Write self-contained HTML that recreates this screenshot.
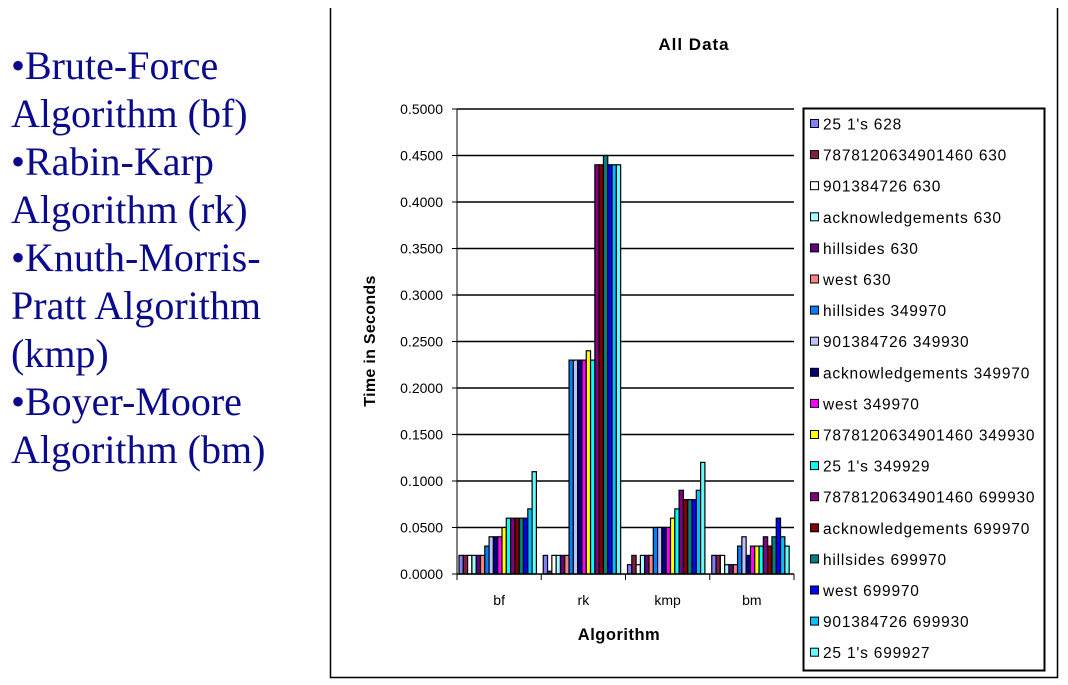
<!DOCTYPE html>
<html><head><meta charset="utf-8"><style>
body{margin:0;width:1068px;height:685px;background:#fff;overflow:hidden;position:relative}
.left{position:absolute;left:11px;top:42px;font-family:"Liberation Serif",serif;font-size:40px;line-height:48px;color:#0a0a8c}
</style></head><body>
<div class="left">
<div>•Brute-Force<br>Algorithm (bf)</div>
<div>•Rabin-Karp<br>Algorithm (rk)</div>
<div>•Knuth-Morris-<br>Pratt Algorithm<br>(kmp)</div>
<div>•Boyer-Moore<br>Algorithm (bm)</div>
</div>
<svg id="chart" width="1068" height="685" style="position:absolute;left:0;top:0" font-family="Liberation Sans, sans-serif"></svg>
<script>
const categories=["bf","rk","kmp","bm"];
const seriesNames=["25 1's 628","7878120634901460 630","901384726 630","acknowledgements 630","hillsides 630","west 630","hillsides 349970","901384726 349930","acknowledgements 349970","west 349970","7878120634901460 349930","25 1's 349929","7878120634901460 699930","acknowledgements 699970","hillsides 699970","west 699970","901384726 699930","25 1's 699927"];
const seriesColors=["#8080ff","#802040","#ffffff","#a0ffff","#600080","#ff8080","#0080ff","#c0c0ff","#000080","#ff00ff","#ffff00","#00ffff","#800080","#800000","#008080","#0000ff","#00c0ff","#60ffff"];
const bfValues=[0.02,0.02,0.02,0.02,0.02,0.02,0.03,0.04,0.04,0.04,0.05,0.06,0.06,0.06,0.06,0.06,0.07,0.11];
const rkValues=[0.02,0.003,0.02,0.02,0.02,0.02,0.23,0.23,0.23,0.23,0.24,0.23,0.44,0.44,0.45,0.44,0.44,0.44];
const kmpValues=[0.01,0.02,0.01,0.02,0.02,0.02,0.05,0.05,0.05,0.05,0.06,0.07,0.09,0.08,0.08,0.08,0.09,0.12];
const bmValues=[0.02,0.02,0.02,0.01,0.01,0.01,0.03,0.04,0.02,0.03,0.03,0.03,0.04,0.03,0.04,0.06,0.04,0.03];
const yTicks=[0,0.05,0.1,0.15,0.2,0.25,0.3,0.35,0.4,0.45,0.5];
const groupValues=[bfValues,rkValues,kmpValues,bmValues];
const svg=document.getElementById('chart');const NS='http://www.w3.org/2000/svg';
function mk(t,a,txt){const e=document.createElementNS(NS,t);for(const k in a)e.setAttribute(k,a[k]);if(txt!=null)e.textContent=txt;svg.appendChild(e);return e;}
const X0=457,X1=794,Y0=574,Y1=109;
const y=v=>Y0-(v/0.5)*(Y0-Y1);
const gw=(X1-X0)/categories.length;
let e;
e=mk('path',{d:'M330.5 8V677.5H1057.5V8',fill:'none',stroke:'#000','stroke-width':1.5});

e=mk('text',{x:694,y:50,'font-size':17,'font-weight':'bold','letter-spacing':1,'text-anchor':'middle'},'All Data');

yTicks.forEach(t=>{
 e=mk('line',{x1:X0,x2:X1,y1:y(t),y2:y(t),stroke:'#000','stroke-width':t===0?1:1.5});
 
 e=mk('line',{x1:X0-5,x2:X0,y1:y(t),y2:y(t),stroke:'#000'});
 
 e=mk('text',{x:443,y:y(t)+5,'font-size':14,'text-anchor':'end'},t.toFixed(4));
 
});
e=mk('line',{x1:X0,x2:X0,y1:Y1,y2:Y0,stroke:'#000'});

const bw=4.3;
groupValues.forEach((vals,g)=>{
 const gx=X0+g*gw+2;
 vals.forEach((v,i)=>{
  e=mk('rect',{x:gx+i*bw,y:y(v),width:bw,height:Y0-y(v),fill:seriesColors[i],stroke:'#000','stroke-width':1.2});
  
 });
 e=mk('text',{x:X0+(g+0.5)*gw,y:605,'font-size':14,'text-anchor':'middle'},categories[g]);
 
});
for(let g=0;g<=categories.length;g++){
 e=mk('line',{x1:X0+g*gw,x2:X0+g*gw,y1:Y0,y2:Y0+6,stroke:'#000'});
 
}
e=mk('line',{x1:X0,x2:X1,y1:Y0,y2:Y0,stroke:'#000','stroke-width':1.5});

e=mk('text',{x:619,y:640,'font-size':16.5,'font-weight':'bold','letter-spacing':0.5,'text-anchor':'middle'},'Algorithm');

e=mk('text',{x:0,y:0,'font-size':16,'font-weight':'bold','letter-spacing':0.3,'text-anchor':'middle',transform:'translate(375,341) rotate(-90)'},'Time in Seconds');

e=mk('rect',{x:803.5,y:108.5,width:241,height:562,fill:'#fff',stroke:'#000','stroke-width':2});

seriesNames.forEach((n,i)=>{
 const ly=124+i*31.1;
 e=mk('rect',{x:810.5,y:ly-4.5,width:8,height:8,fill:seriesColors[i],stroke:'#000'});
 
 e=mk('text',{x:823,y:ly+5.5,'font-size':15.5,'letter-spacing':0.8},n);
 
});
</script>
</body></html>
